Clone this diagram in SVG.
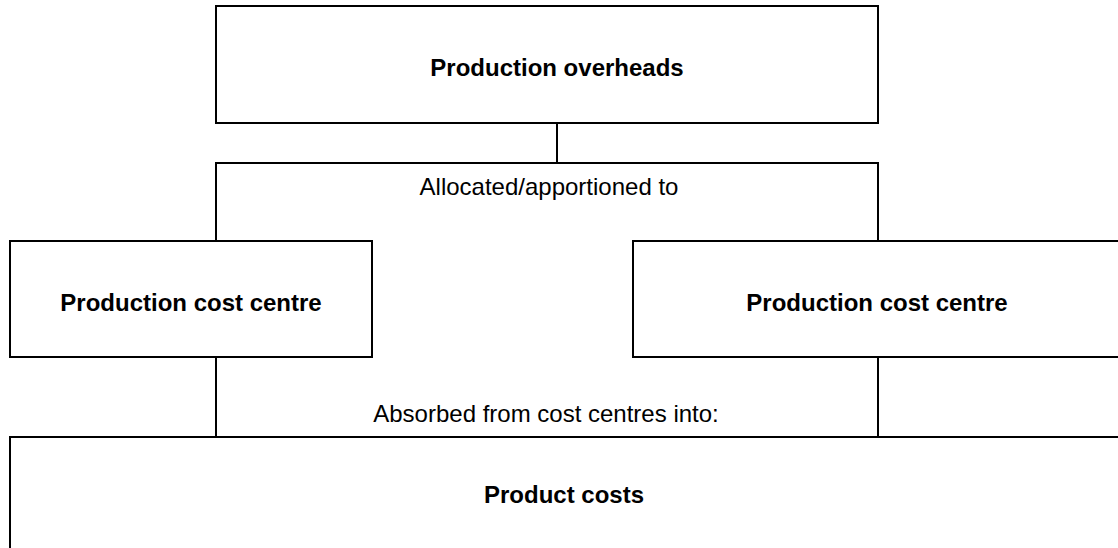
<svg xmlns="http://www.w3.org/2000/svg" width="1118" height="548" viewBox="0 0 1118 548">
<style>
.box{fill:#fff;stroke:#000;stroke-width:2}
.con{fill:none;stroke:#000;stroke-width:2}
.b{font-family:"Liberation Sans",Arial,Helvetica,sans-serif;font-size:24px;font-weight:bold;fill:#000;text-anchor:middle}
.r{font-family:"Liberation Sans",Arial,Helvetica,sans-serif;font-size:24px;fill:#000;text-anchor:middle}
</style>
<rect width="1118" height="548" fill="#fff"/>
<g id="connectors">
<path class="con" d="M557 123V163M216 241V163H878V241"/>
<path class="con" d="M216 357V437M878 357V437"/>
<text class="r" x="549" y="195">Allocated/apportioned to</text>
<text class="r" x="546" y="422">Absorbed from cost centres into:</text>
</g>
<g id="overheads">
<rect class="box" x="216" y="6" width="662" height="117"/>
<text class="b" x="557" y="76">Production overheads</text>
</g>
<g id="cost-centre-left">
<rect class="box" x="10" y="241" width="362" height="116"/>
<text class="b" x="191" y="311">Production cost centre</text>
</g>
<g id="cost-centre-right">
<rect class="box" x="633" y="241" width="488" height="116"/>
<text class="b" x="877" y="311">Production cost centre</text>
</g>
<g id="product-costs">
<rect class="box" x="10" y="437" width="1112" height="116"/>
<text class="b" x="564" y="503">Product costs</text>
</g>
</svg>
